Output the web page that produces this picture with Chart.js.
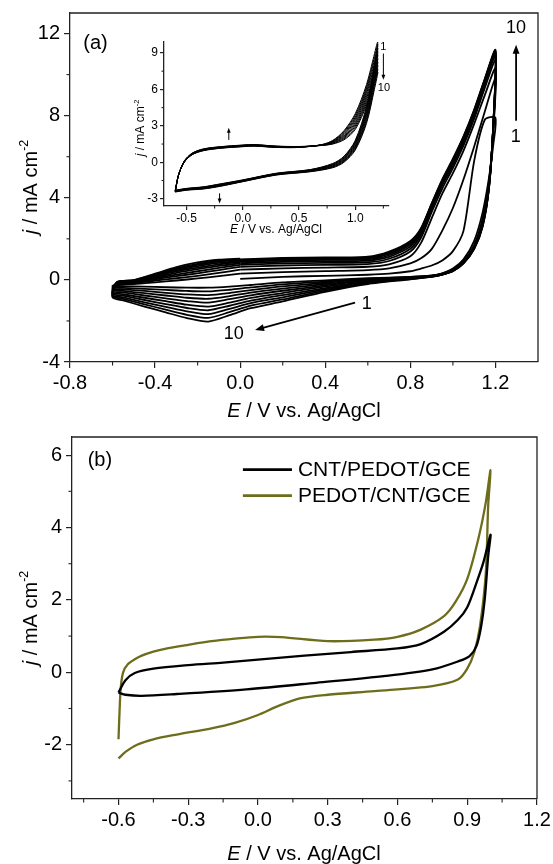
<!DOCTYPE html>
<html>
<head>
<meta charset="utf-8">
<script src="https://cdn.jsdelivr.net/npm/chart.js@4.4.1/dist/chart.umd.min.js"></script>
<style>
  body { margin: 0; background: #fff; }
  #wrap { position: relative; width: 553px; height: 864px; background: #fff; }
  canvas { position: absolute; }
</style>
</head>
<body>
<div id="wrap">
  <canvas id="chartA" width="553" height="425" style="left:0;top:0"></canvas>
  <canvas id="chartInset" width="295" height="215" style="left:110px;top:30px"></canvas>
  <canvas id="chartB" width="553" height="434" style="left:0;top:430px"></canvas>
</div>
<script>
// ---------- panel (a): ten successive cycles, all on the same potential grid ----------
// scan: 0.0 -> 1.2 -> -0.6 -> 0.0 V
const potentialA = [0.0, 0.2, 0.4, 0.6, 0.7, 0.8, 0.85, 0.9, 0.95, 1.0, 1.05, 1.1, 1.15, 1.2,
  1.19, 1.17, 1.14, 1.1, 1.05, 1.0, 0.95, 0.9,
  0.8, 0.6, 0.4, 0.2, 0.05, -0.05, -0.15, -0.25, -0.35, -0.45, -0.55, -0.6,
  -0.58, -0.5, -0.4, -0.3, -0.2, -0.1, 0.0];

const cyclesA = [
  // cycle 1
  [0.05, 0.15, 0.2, 0.25, 0.3, 0.42, 0.55, 0.7, 0.95, 1.4, 2.4, 5.8, 7.8, 7.9,
   6.6, 5.0, 3.3, 1.9, 1.0, 0.55, 0.32, 0.22,
   0.15, 0.08, -0.02, -0.12, -0.25, -0.33, -0.38, -0.38, -0.36, -0.33, -0.31, -0.3,
   -0.22, -0.2, -0.12, -0.03, 0.07, 0.18, 0.3],
  // cycle 2
  [0.3, 0.38, 0.43, 0.48, 0.56, 0.8, 1.05, 1.5, 2.4, 3.5, 4.9, 6.5, 8.2, 9.8,
   7.3, 4.8, 3.0, 1.7, 0.9, 0.5, 0.31, 0.21,
   0.14, 0.05, -0.08, -0.22, -0.37, -0.48, -0.56, -0.54, -0.49, -0.44, -0.39, -0.36,
   -0.2, -0.16, -0.03, 0.08, 0.2, 0.34, 0.5],
  // cycle 3
  [0.5, 0.56, 0.6, 0.64, 0.76, 1.15, 1.8, 3.0, 4.2, 5.2, 6.3, 7.6, 9.0, 10.3,
   7.4, 4.75, 2.9, 1.65, 0.88, 0.48, 0.3, 0.2,
   0.12, 0.02, -0.14, -0.32, -0.5, -0.64, -0.74, -0.71, -0.63, -0.54, -0.46, -0.42,
   -0.18, -0.12, 0.03, 0.18, 0.32, 0.48, 0.63],
  // cycle 4
  [0.63, 0.7, 0.73, 0.77, 0.92, 1.38, 2.05, 3.3, 4.45, 5.45, 6.55, 7.85, 9.35, 10.7,
   7.5, 4.7, 2.85, 1.62, 0.86, 0.47, 0.29, 0.19,
   0.11, -0.01, -0.2, -0.43, -0.62, -0.79, -0.92, -0.87, -0.76, -0.65, -0.54, -0.48,
   -0.17, -0.09, 0.08, 0.26, 0.42, 0.58, 0.73],
  // cycle 5
  [0.73, 0.8, 0.83, 0.86, 1.03, 1.52, 2.2, 3.45, 4.6, 5.6, 6.7, 8.0, 9.55, 10.9,
   7.5, 4.65, 2.8, 1.6, 0.85, 0.46, 0.28, 0.18,
   0.1, -0.04, -0.27, -0.53, -0.75, -0.94, -1.11, -1.03, -0.9, -0.76, -0.61, -0.55,
   -0.16, -0.07, 0.13, 0.34, 0.52, 0.68, 0.81],
  // cycle 6
  [0.81, 0.88, 0.91, 0.94, 1.12, 1.63, 2.3, 3.55, 4.7, 5.7, 6.8, 8.1, 9.65, 11.0,
   7.55, 4.6, 2.75, 1.58, 0.84, 0.45, 0.27, 0.17,
   0.08, -0.08, -0.33, -0.64, -0.88, -1.11, -1.3, -1.21, -1.04, -0.87, -0.7, -0.61,
   -0.15, -0.05, 0.17, 0.41, 0.6, 0.76, 0.88],
  // cycle 7
  [0.88, 0.94, 0.97, 1.0, 1.2, 1.72, 2.38, 3.62, 4.76, 5.76, 6.86, 8.16, 9.7, 11.05,
   7.55, 4.58, 2.7, 1.56, 0.83, 0.44, 0.27, 0.17,
   0.07, -0.11, -0.4, -0.74, -1.01, -1.26, -1.48, -1.37, -1.18, -0.98, -0.77, -0.68,
   -0.14, -0.04, 0.21, 0.47, 0.67, 0.83, 0.93],
  // cycle 8
  [0.93, 0.99, 1.02, 1.05, 1.27, 1.79, 2.44, 3.67, 4.82, 5.82, 6.92, 8.22, 9.74, 11.1,
   7.6, 4.55, 2.66, 1.54, 0.82, 0.43, 0.26, 0.16,
   0.06, -0.14, -0.46, -0.85, -1.13, -1.41, -1.67, -1.53, -1.31, -1.09, -0.85, -0.74,
   -0.13, -0.03, 0.24, 0.52, 0.73, 0.89, 0.97],
  // cycle 9
  [0.97, 1.03, 1.06, 1.09, 1.33, 1.85, 2.48, 3.7, 4.86, 5.86, 6.96, 8.26, 9.77, 11.15,
   7.6, 4.52, 2.63, 1.52, 0.81, 0.43, 0.25, 0.16,
   0.04, -0.17, -0.52, -0.95, -1.26, -1.57, -1.85, -1.7, -1.45, -1.19, -0.92, -0.8,
   -0.12, -0.02, 0.27, 0.56, 0.78, 0.93, 1.0],
  // cycle 10
  [1.0, 1.07, 1.09, 1.13, 1.38, 1.9, 2.52, 3.72, 4.9, 5.9, 7.0, 8.3, 9.8, 11.2,
   7.6, 4.5, 2.6, 1.5, 0.8, 0.42, 0.25, 0.15,
   0.03, -0.2, -0.58, -1.05, -1.38, -1.72, -2.03, -1.86, -1.58, -1.3, -1.0, -0.86,
   -0.11, -0.01, 0.3, 0.62, 0.85, 0.98, 1.04]
];

const xTicksA = [-0.8, -0.4, 0.0, 0.4, 0.8, 1.2];
const xMinorA = [-0.6, -0.2, 0.2, 0.6, 1.0];
const yTicksA = [-4, 0, 4, 8, 12];
const yMinorA = [-2, 2, 6, 10];

// ---------- inset: ten cycles, scan -0.6 -> 1.2 -> -0.6 V ----------
const potentialInset = [-0.6, -0.57, -0.52, -0.45, -0.35, -0.2, 0.0, 0.1, 0.3, 0.5, 0.7, 0.8, 0.9, 1.0, 1.1, 1.2,
  1.17, 1.1, 1.0, 0.9, 0.8, 0.6, 0.3, 0.0, -0.2, -0.35, -0.5, -0.6];

const cyclesInset = [
  [-2.3, -1.0, 0.0, 0.62, 0.95, 1.15, 1.28, 1.33, 1.22, 1.22, 1.45, 1.8, 2.6, 4.0, 6.4, 9.95,
   8.0, 4.6, 1.8, 0.5, -0.1, -0.6, -0.9, -1.45, -1.78, -2.02, -2.15, -2.3],
  [-2.32, -1.01, 0.01, 0.63, 0.97, 1.16, 1.3, 1.34, 1.23, 1.23, 1.44, 1.77, 2.52, 3.86, 6.2, 9.67,
   7.78, 4.45, 1.71, 0.45, -0.14, -0.62, -0.92, -1.47, -1.8, -2.04, -2.17, -2.32],
  [-2.33, -1.01, 0.02, 0.65, 0.98, 1.18, 1.31, 1.36, 1.24, 1.24, 1.43, 1.73, 2.44, 3.71, 6.03, 9.39,
   7.56, 4.29, 1.62, 0.39, -0.18, -0.64, -0.93, -1.48, -1.82, -2.06, -2.18, -2.33],
  [-2.35, -1.02, 0.03, 0.66, 1.0, 1.19, 1.33, 1.37, 1.26, 1.25, 1.43, 1.7, 2.35, 3.57, 5.84, 9.1,
   7.34, 4.14, 1.54, 0.34, -0.22, -0.66, -0.95, -1.5, -1.85, -2.08, -2.2, -2.35],
  [-2.37, -1.02, 0.04, 0.68, 1.02, 1.21, 1.34, 1.39, 1.27, 1.26, 1.42, 1.67, 2.27, 3.43, 5.65, 8.83,
   7.12, 3.98, 1.45, 0.28, -0.25, -0.68, -0.97, -1.52, -1.87, -2.1, -2.22, -2.37],
  [-2.38, -1.03, 0.06, 0.69, 1.03, 1.22, 1.36, 1.4, 1.28, 1.26, 1.41, 1.63, 2.18, 3.27, 5.45, 8.52,
   6.88, 3.82, 1.35, 0.22, -0.3, -0.7, -0.98, -1.53, -1.89, -2.12, -2.23, -2.38],
  [-2.4, -1.03, 0.07, 0.71, 1.05, 1.24, 1.37, 1.42, 1.29, 1.27, 1.4, 1.6, 2.1, 3.13, 5.26, 8.24,
   6.66, 3.66, 1.26, 0.17, -0.33, -0.72, -1.0, -1.55, -1.91, -2.14, -2.25, -2.4],
  [-2.42, -1.04, 0.08, 0.72, 1.07, 1.25, 1.39, 1.43, 1.31, 1.28, 1.4, 1.57, 2.02, 2.99, 5.07, 7.96,
   6.44, 3.51, 1.18, 0.11, -0.37, -0.74, -1.02, -1.57, -1.94, -2.16, -2.27, -2.42],
  [-2.43, -1.04, 0.09, 0.74, 1.08, 1.27, 1.4, 1.45, 1.32, 1.29, 1.39, 1.53, 1.93, 2.84, 4.89, 7.68,
   6.22, 3.35, 1.09, 0.06, -0.41, -0.76, -1.03, -1.58, -1.96, -2.18, -2.28, -2.43],
  [-2.45, -1.05, 0.1, 0.75, 1.1, 1.28, 1.42, 1.46, 1.33, 1.3, 1.38, 1.5, 1.85, 2.7, 4.7, 7.4,
   6.0, 3.2, 1.0, 0.0, -0.45, -0.78, -1.05, -1.6, -1.98, -2.2, -2.3, -2.45]
];

const xTicksInset = [-0.5, 0.0, 0.5, 1.0];
const xMinorInset = [-0.25, 0.25, 0.75, 1.25];
const yTicksInset = [-3, 0, 3, 6, 9];
const yMinorInset = [-1.5, 1.5, 4.5, 7.5];

// ---------- panel (b) ----------
const cntPedotE = [-0.6, -0.57, -0.53, -0.45, -0.3, -0.15, 0.0, 0.2, 0.4, 0.6, 0.7, 0.8, 0.86, 0.9, 0.94, 0.97, 1.0,
  0.99, 0.975, 0.96, 0.94, 0.91, 0.86, 0.75, 0.55, 0.25, -0.05, -0.35, -0.5, -0.57, -0.6];
const cntPedotJ = [-0.56, -0.22, -0.02, 0.1, 0.2, 0.27, 0.35, 0.46, 0.56, 0.66, 0.78, 1.12, 1.45, 1.8, 2.48, 3.05, 3.8,
  3.2, 2.0, 1.28, 0.73, 0.45, 0.3, 0.08, -0.1, -0.29, -0.47, -0.6, -0.65, -0.62, -0.56];

const pedotCntE = [-0.6, -0.595, -0.59, -0.58, -0.56, -0.53, -0.5, -0.45, -0.4, -0.3, -0.2, -0.1, 0.0, 0.1, 0.3, 0.5, 0.6, 0.7, 0.8, 0.85, 0.9, 0.95, 0.98, 1.0,
  0.99, 0.98, 0.955, 0.93, 0.9, 0.86, 0.75, 0.5, 0.3, 0.18, 0.08, 0.0, -0.1, -0.2, -0.35, -0.45, -0.52, -0.57, -0.6];
const pedotCntJ = [-1.85, -1.0, -0.4, 0.0, 0.22, 0.36, 0.46, 0.57, 0.65, 0.76, 0.86, 0.93, 0.98, 0.97, 0.86, 0.9, 0.98, 1.18, 1.55, 1.95, 2.58, 3.75, 4.7, 5.58,
  4.6, 2.76, 1.28, 0.55, 0.1, -0.2, -0.38, -0.52, -0.62, -0.72, -0.95, -1.18, -1.4, -1.55, -1.72, -1.85, -2.0, -2.2, -2.38];

const seriesNamesB = ['CNT/PEDOT/GCE', 'PEDOT/CNT/GCE'];
const seriesColorsB = ['#000000', '#6e6d1c'];

const xTicksB = [-0.6, -0.3, 0.0, 0.3, 0.6, 0.9, 1.2];
const xMinorB = [-0.75, -0.45, -0.15, 0.15, 0.45, 0.75, 1.05];
const yTicksB = [-2, 0, 2, 4, 6];
const yMinorB = [-3, -1, 1, 3, 5];

// ---------- helpers ----------
const FONT = '"Liberation Sans", Arial, sans-serif';
const AXIS = '#222';
Chart.defaults.font.family = FONT;
Chart.defaults.color = '#000';

function toPoints(es, js) {
  return es.map((e, i) => ({ x: e, y: js[i] }));
}

function axis(dir, min, max, ticks, fmt, size, extent, tickLen, pad) {
  return {
    type: 'linear', min: min, max: max,
    afterBuildTicks: s => { s.ticks = ticks.map(v => ({ value: v })); },
    afterFit: s => {
      if (dir === 'x') s.height = extent; else s.width = extent;
      // keep the plot box where the layout padding puts it
      s.paddingTop = s.paddingBottom = s.paddingLeft = s.paddingRight = 0;
    },
    grid: { drawOnChartArea: false, drawTicks: true, tickLength: tickLen, color: AXIS, lineWidth: 1.2 },
    border: { display: true, color: AXIS, width: 1.3 },
    ticks: { callback: fmt, font: { size: size }, color: '#000', padding: pad, maxRotation: 0, autoSkip: false }
  };
}

function drawTitle(ctx, x, y, size, rotate, pieces) {
  ctx.save();
  ctx.translate(x, y);
  if (rotate) ctx.rotate(-Math.PI / 2);
  ctx.textAlign = 'left';
  ctx.textBaseline = 'alphabetic';
  const fontOf = p => (p.italic ? 'italic ' : '') + (p.sup ? size * 0.62 : size) + 'px ' + FONT;
  let w = 0;
  pieces.forEach(p => { ctx.font = fontOf(p); w += ctx.measureText(p.t).width; });
  let cx = -w / 2;
  const base = size * 0.36;
  pieces.forEach(p => {
    ctx.font = fontOf(p);
    ctx.fillText(p.t, cx, p.sup ? base - size * 0.45 : base);
    cx += ctx.measureText(p.t).width;
  });
  ctx.restore();
}

const xTitlePieces = [{ t: 'E', italic: true }, { t: ' / V vs. Ag/AgCl' }];
const yTitlePieces = [{ t: 'j', italic: true }, { t: ' / mA cm' }, { t: '-2', sup: true }];

// frame, minor ticks, titles, labels and arrows
function decor(cfg) {
  return {
    id: 'decor',
    afterDraw(chart) {
      const ctx = chart.ctx, a = chart.chartArea;
      const sx = chart.scales.x, sy = chart.scales.y;
      const px = e => sx.getPixelForValue(e), py = j => sy.getPixelForValue(j);
      ctx.save();
      ctx.strokeStyle = AXIS;
      ctx.fillStyle = '#000';
      if (cfg.box) {
        ctx.lineWidth = 1.3;
        ctx.beginPath();
        ctx.moveTo(a.left, a.top);
        ctx.lineTo(a.right, a.top);
        ctx.lineTo(a.right, a.bottom);
        ctx.stroke();
      }
      ctx.lineWidth = 1.1;
      cfg.minorX.forEach(v => {
        const p = px(v);
        ctx.beginPath(); ctx.moveTo(p, a.bottom); ctx.lineTo(p, a.bottom + cfg.minorLen); ctx.stroke();
      });
      cfg.minorY.forEach(v => {
        const p = py(v);
        ctx.beginPath(); ctx.moveTo(a.left, p); ctx.lineTo(a.left - cfg.minorLen, p); ctx.stroke();
      });
      drawTitle(ctx, cfg.xTitle[0], cfg.xTitle[1], cfg.titleSize, false, xTitlePieces);
      drawTitle(ctx, cfg.yTitle[0], cfg.yTitle[1], cfg.titleSize, true, yTitlePieces);

      ctx.textAlign = 'center';
      ctx.textBaseline = 'middle';
      (cfg.texts || []).forEach(t => {
        ctx.font = t.size + 'px ' + FONT;
        ctx.fillText(t.t, px(t.e), py(t.j));
      });

      (cfg.arrows || []).forEach(ar => {
        const x0 = px(ar.from[0]), y0 = py(ar.from[1]);
        const x1 = px(ar.to[0]), y1 = py(ar.to[1]);
        const ang = Math.atan2(y1 - y0, x1 - x0);
        const h = ar.head;
        ctx.strokeStyle = '#000';
        ctx.lineWidth = ar.width;
        ctx.beginPath();
        ctx.moveTo(x0, y0);
        ctx.lineTo(x1 - Math.cos(ang) * h * 0.8, y1 - Math.sin(ang) * h * 0.8);
        ctx.stroke();
        ctx.beginPath();
        ctx.moveTo(x1, y1);
        ctx.lineTo(x1 - Math.cos(ang) * h + Math.sin(ang) * h * 0.38, y1 - Math.sin(ang) * h - Math.cos(ang) * h * 0.38);
        ctx.lineTo(x1 - Math.cos(ang) * h - Math.sin(ang) * h * 0.38, y1 - Math.sin(ang) * h + Math.cos(ang) * h * 0.38);
        ctx.closePath();
        ctx.fill();
      });

      (cfg.legend || []).forEach(l => {
        const y = py(l.j);
        ctx.strokeStyle = l.color;
        ctx.lineWidth = 2.6;
        ctx.beginPath(); ctx.moveTo(px(l.e1), y); ctx.lineTo(px(l.e2), y); ctx.stroke();
        ctx.font = l.size + 'px ' + FONT;
        ctx.textAlign = 'left';
        ctx.fillText(l.label, px(l.e2) + 6, y + 1);
      });
      ctx.restore();
    }
  };
}

const common = {
  responsive: false,
  animation: false,
  devicePixelRatio: 1,
  plugins: { legend: { display: false }, tooltip: { enabled: false } }
};

// ---------- panel (a) ----------
new Chart(document.getElementById('chartA'), {
  type: 'scatter',
  data: {
    datasets: cyclesA.map(c => ({
      data: toPoints(potentialA, c),
      showLine: true, borderColor: '#000', borderWidth: 1.8,
      pointRadius: 0, tension: 0.25, fill: false
    }))
  },
  options: Object.assign({}, common, {
    layout: { padding: { left: 0, top: 13, right: 15, bottom: 0 } },
    scales: {
      x: axis('x', -0.8, 1.4, xTicksA, v => v.toFixed(1), 20, 63, 6, 3),
      y: axis('y', -4, 13, yTicksA, v => String(v), 20, 70, 6, 4)
    }
  }),
  plugins: [decor({
    box: true, minorX: xMinorA, minorY: yMinorA, minorLen: 3.5,
    titleSize: 20, xTitle: [304, 410], yTitle: [30, 187],
    texts: [
      { t: '(a)', e: -0.68, j: 11.5, size: 20 },
      { t: '10', e: 1.297, j: 12.25, size: 18 },
      { t: '1', e: 1.295, j: 6.95, size: 18 },
      { t: '1', e: 0.595, j: -1.2, size: 18 },
      { t: '10', e: -0.03, j: -2.65, size: 18 }
    ],
    arrows: [
      { from: [1.297, 7.75], to: [1.297, 11.45], head: 9, width: 1.8 },
      { from: [0.54, -1.11], to: [0.07, -2.44], head: 9, width: 1.8 }
    ]
  })]
});

// ---------- inset ----------
new Chart(document.getElementById('chartInset'), {
  type: 'scatter',
  data: {
    datasets: cyclesInset.map(c => ({
      data: toPoints(potentialInset, c),
      showLine: true, borderColor: '#000', borderWidth: 1.0,
      pointRadius: 0, tension: 0.3, fill: false
    }))
  },
  options: Object.assign({}, common, {
    layout: { padding: { left: 0, top: 12, right: 16, bottom: 0 } },
    scales: {
      x: axis('x', -0.7, 1.3, xTicksInset, v => v.toFixed(1), 12, 39, 4, 1),
      y: axis('y', -3.6, 9.9, yTicksInset, v => String(v), 12, 54, 4, 2)
    }
  }),
  plugins: [decor({
    box: false, minorX: xMinorInset, minorY: yMinorInset, minorLen: 2.5,
    titleSize: 12, xTitle: [166, 199], yTitle: [30, 98],
    texts: [
      { t: '1', e: 1.25, j: 9.45, size: 11 },
      { t: '10', e: 1.255, j: 6.15, size: 11 }
    ],
    arrows: [
      { from: [-0.124, 1.84], to: [-0.124, 2.85], head: 5, width: 1 },
      { from: [-0.206, -2.56], to: [-0.206, -3.4], head: 5, width: 1 },
      { from: [1.25, 8.95], to: [1.25, 6.8], head: 5, width: 1 }
    ]
  })]
});

// ---------- panel (b) ----------
new Chart(document.getElementById('chartB'), {
  type: 'scatter',
  data: {
    datasets: [
      { label: seriesNamesB[0], data: toPoints(cntPedotE, cntPedotJ), borderColor: seriesColorsB[0] },
      { label: seriesNamesB[1], data: toPoints(pedotCntE, pedotCntJ), borderColor: seriesColorsB[1] }
    ].map(d => Object.assign(d, { showLine: true, borderWidth: 2.3, pointRadius: 0, tension: 0.3, fill: false }))
  },
  options: Object.assign({}, common, {
    layout: { padding: { left: 0, top: 7, right: 16, bottom: 0 } },
    scales: {
      x: axis('x', -0.8, 1.2, xTicksB, v => v.toFixed(1), 20, 65, 6, 3),
      y: axis('y', -3.5, 6.5, yTicksB, v => String(v), 20, 72, 6, 4)
    }
  }),
  plugins: [decor({
    box: true, minorX: xMinorB, minorY: yMinorB, minorLen: 3.5,
    titleSize: 20, xTitle: [304, 423], yTitle: [30, 188],
    texts: [{ t: '(b)', e: -0.68, j: 5.84, size: 20 }],
    legend: [
      { color: seriesColorsB[0], e1: -0.065, e2: 0.146, j: 5.6, label: seriesNamesB[0], size: 21 },
      { color: seriesColorsB[1], e1: -0.065, e2: 0.146, j: 4.88, label: seriesNamesB[1], size: 21 }
    ]
  })]
});
</script>
</body>
</html>
